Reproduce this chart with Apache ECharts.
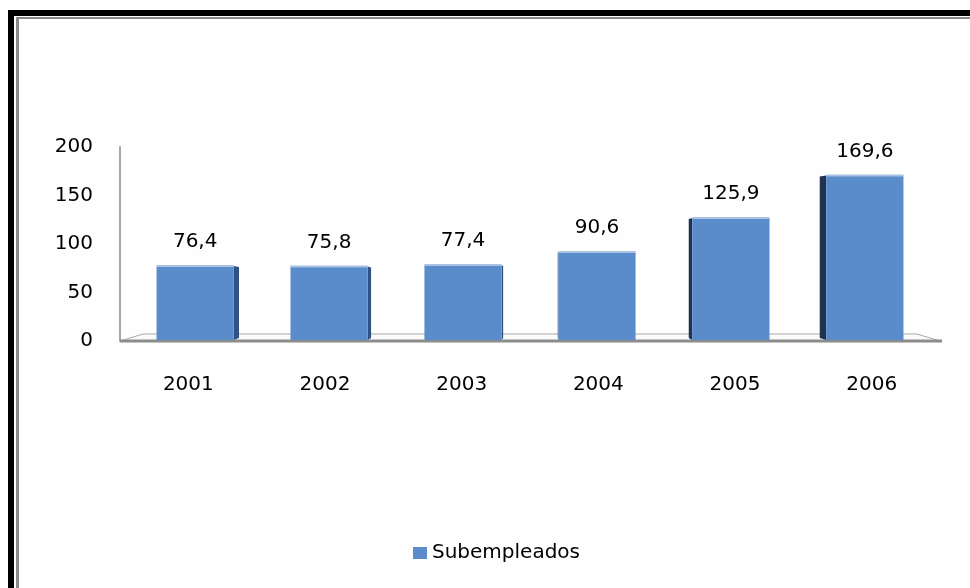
<!DOCTYPE html>
<html><head><meta charset="utf-8">
<script src="https://cdn.jsdelivr.net/npm/echarts@6/dist/echarts.min.js"></script>
<style>
html,body{margin:0;padding:0;width:970px;height:588px;overflow:hidden;background:#fff;}
#frame{position:absolute;left:8px;top:10px;width:1000px;height:600px;border-left:6px solid #000;border-top:6px solid #000;background:#fff;}
#inner{position:absolute;left:2px;top:1px;width:1000px;height:600px;border-left:3px solid #8a8a8a;border-top:2px solid #8a8a8a;background:#fefefe;}
#chart{position:absolute;left:0;top:0;width:970px;height:588px;}
</style></head>
<body>
<div id="frame"><div id="inner"></div></div>
<div id="chart"></div>
<script>
var categories = ['2001','2002','2003','2004','2005','2006'];
var subempleados = [76.4, 75.8, 77.4, 90.6, 125.9, 169.6];
var yTicks = [0, 50, 100, 150, 200];
var seriesName = 'Subempleados';

var FONT = 'DejaVu Sans';
var chart = echarts.init(document.getElementById('chart'), null, {renderer:'canvas'});
var data = subempleados.map(function(v,i){return [i, v];});

function renderBar(params, api){
  var idx = api.value(0), val = api.value(1);
  var base = api.coord([idx, 0]);
  var top = api.coord([idx, val]);
  var cw = api.size([1,0])[0];
  var cs = params.coordSys;
  var cx = cs.x + cs.width/2;
  var x = cx + (base[0]-cx)*0.98;
  var w = cw*0.565;
  var x0 = x - w/2, x1 = x + w/2;
  var yb = base[1] - 1, yt = top[1] - 1;
  var vx = 570, children = [];
  if (x < vx) {
    var s = (vx - x)*0.014;
    if (s > 0.5) children.push({type:'polygon', shape:{points:[[x1,yt],[x1+s,yt+1],[x1+s,yb-2],[x1,yb]]}, style:{fill:'#2f5280'}});
  } else {
    var s2 = (x - vx)*0.022;
    if (s2 > 0.5) children.push({type:'polygon', shape:{points:[[x0,yt],[x0-s2,yt+1],[x0-s2,yb-2],[x0,yb]]}, style:{fill:'#1f3350'}});
  }
  children.push({type:'rect', shape:{x:x0, y:yt, width:w, height:yb-yt}, style:{fill:'#5a8bca'}});
  children.push({type:'rect', shape:{x:x0, y:yt-1, width:w, height:2}, style:{fill:'#a9c2e2'}});
  children.push({type:'text', style:{text: String(val).replace('.', ','), x:x, y:yt-14, align:'center', verticalAlign:'bottom', font:'20px "' + FONT + '"', fill:'#000'}});
  return {type:'group', children:children};
}

chart.setOption({
  animation:false,
  grid:{left:120, right:30, top:147, bottom:247},
  legend:{left:408, top:538, itemWidth:14, itemHeight:12, itemGap:10,
    data:[{name:seriesName, icon:'rect'}],
    textStyle:{fontFamily:FONT, fontSize:20, color:'#000'}},
  xAxis:{type:'category', data:categories, axisLine:{show:false}, axisTick:{show:false},
    axisLabel:{fontFamily:FONT, fontSize:20, color:'#000', margin:34}},
  yAxis:{type:'value', min:yTicks[0], max:yTicks[yTicks.length-1], interval:50,
    axisLine:{show:true, lineStyle:{color:'#a6a6a6', width:2}}, axisTick:{show:false}, splitLine:{show:false},
    axisLabel:{fontFamily:FONT, fontSize:20, color:'#000', margin:27, padding:[4,0,0,0]}},
  series:[{name:seriesName, type:'custom', renderItem:renderBar, data:data, z:5,
    itemStyle:{color:'#5a8bca'}, encode:{x:0, y:1}}]
});

var rect = chart.getModel().getComponent('grid').coordinateSystem.getRect();
var y0 = chart.convertToPixel({yAxisIndex:0}, 0);
var L = rect.x, R = rect.x + rect.width, d = 23, h = 7;
chart.setOption({graphic:[
  {type:'polygon', z:1, shape:{points:[[L,y0],[R,y0],[R-d,y0-h],[L+d,y0-h]]}, style:{fill:'#fbfbfb', stroke:'#a8a8a8', lineWidth:1}},
  {type:'line', z:1, shape:{x1:L, y1:y0, x2:R+2, y2:y0}, style:{stroke:'#8c8c8c', lineWidth:3}}
]});
</script>
</body></html>
